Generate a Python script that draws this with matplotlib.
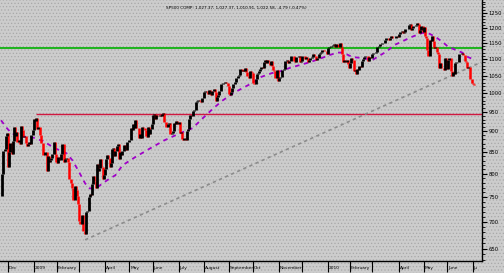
import numpy as np
import matplotlib
matplotlib.use("Agg")
from matplotlib import pyplot as plt
from matplotlib.patches import Rectangle
from matplotlib.ticker import FixedLocator, NullFormatter

# daily closes, one list per month (Nov 2008 .. Jul 2010)
nov08 = [752.44, 800.03, 851.81, 857.39, 887.68, 896.24]
dec08 = [816.21, 848.81, 870.74, 845.22, 876.07, 909.70, 888.67, 899.24, 873.59, 879.73, 868.57,
         913.18, 904.42, 885.28, 887.88, 871.63, 863.16, 868.15, 872.80, 869.42, 890.64, 903.25]
jan09 = [931.80, 927.45, 934.70, 906.65, 909.73, 890.35, 870.26, 871.79, 842.62, 843.74, 850.12,
         805.22, 840.24, 827.50, 831.95, 836.57, 845.71, 874.09, 845.14, 825.88]
feb09 = [825.44, 838.51, 832.23, 845.85, 868.60, 869.89, 827.16, 833.74, 835.19, 826.84, 789.17,
         788.42, 778.94, 770.05, 743.33, 773.14, 764.90, 752.83, 735.09]
mar09 = [700.82, 696.33, 712.87, 682.55, 683.38, 676.53, 719.60, 721.36, 750.74, 756.55, 753.89,
         778.12, 794.35, 784.04, 768.54, 822.92, 806.12, 813.88, 832.86, 815.94, 787.53, 797.87]
apr09 = [811.08, 834.38, 842.50, 835.48, 815.55, 825.16, 856.56, 858.73, 841.50, 852.06, 865.30,
         869.60, 832.39, 850.08, 843.55, 851.92, 866.23, 857.51, 855.16, 873.64, 872.81]
may09 = [877.52, 907.24, 903.80, 919.53, 907.39, 929.23, 909.24, 908.35, 883.92, 893.07, 882.88,
         909.71, 908.13, 903.47, 888.33, 887.00, 910.33, 893.06, 906.83, 919.14]
jun09 = [942.87, 944.74, 931.76, 942.46, 940.09, 939.14, 942.43, 939.15, 944.89, 946.21, 923.72,
         911.97, 910.71, 918.37, 921.23, 893.04, 895.10, 900.94, 920.26, 918.90, 927.23, 919.32]
jul09 = [923.33, 896.42, 898.72, 881.03, 879.56, 882.68, 879.13, 901.05, 905.84, 932.68, 940.74,
         940.38, 951.13, 954.58, 954.07, 976.29, 979.26, 982.18, 979.62, 975.15, 986.75, 987.48]
aug09 = [1002.63, 1005.65, 1002.72, 997.08, 1010.48, 1007.10, 994.35, 1005.81, 1012.73, 1004.09,
         979.73, 989.67, 996.46, 1007.37, 1026.13, 1025.57, 1028.00, 1028.12, 1030.98, 1028.93, 1020.62]
sep09 = [998.04, 994.75, 1003.24, 1016.40, 1025.39, 1033.37, 1044.14, 1042.73, 1049.34, 1052.63,
         1068.76, 1065.49, 1068.30, 1064.66, 1071.66, 1060.87, 1050.78, 1044.38, 1062.98, 1060.61, 1057.08]
oct09 = [1029.85, 1025.21, 1040.46, 1054.72, 1057.58, 1065.48, 1071.49, 1076.19, 1073.19, 1092.02,
         1096.56, 1087.68, 1097.91, 1091.06, 1081.40, 1092.91, 1079.60, 1066.95, 1063.41, 1042.63,
         1066.11, 1036.19]
nov09 = [1042.88, 1045.41, 1046.50, 1066.63, 1069.30, 1093.08, 1093.01, 1098.51, 1087.24, 1093.48,
         1109.30, 1110.32, 1109.80, 1094.90, 1091.38, 1106.24, 1105.65, 1110.63, 1091.49, 1095.63]
dec09 = [1108.86, 1109.24, 1099.92, 1105.98, 1103.25, 1091.94, 1095.95, 1102.35, 1106.41, 1114.11,
         1107.93, 1109.18, 1096.08, 1102.47, 1114.05, 1118.02, 1120.59, 1126.48, 1127.78, 1126.20,
         1126.42, 1115.10]
jan10 = [1132.99, 1136.52, 1137.14, 1141.69, 1144.98, 1146.98, 1136.22, 1145.68, 1148.46, 1136.03,
         1150.23, 1138.04, 1116.48, 1091.76, 1096.78, 1092.17, 1097.50, 1084.53, 1073.87]
feb10 = [1089.19, 1103.32, 1097.28, 1063.11, 1066.19, 1056.74, 1070.52, 1068.13, 1078.47, 1075.51,
         1094.87, 1099.51, 1106.75, 1109.17, 1108.01, 1094.60, 1105.24, 1102.94, 1104.49]
mar10 = [1115.71, 1118.31, 1118.79, 1122.97, 1138.70, 1138.50, 1140.45, 1145.61, 1150.24, 1149.99,
         1150.51, 1159.46, 1166.21, 1165.83, 1159.90, 1165.81, 1174.17, 1167.72, 1165.73, 1166.59,
         1173.22, 1173.27, 1169.43]
apr10 = [1178.10, 1187.44, 1189.44, 1182.45, 1186.44, 1194.37, 1196.48, 1197.30, 1210.65, 1211.67,
         1192.13, 1197.52, 1207.17, 1205.94, 1208.67, 1217.28, 1212.05, 1183.71, 1191.36, 1206.78, 1186.69]
may10 = [1202.26, 1173.60, 1165.90, 1128.15, 1110.88, 1159.73, 1155.79, 1171.67, 1157.44, 1135.68,
         1136.94, 1120.80, 1115.05, 1071.59, 1087.69, 1073.65, 1074.03, 1067.95, 1103.06, 1089.41]
jun10 = [1070.71, 1098.38, 1102.83, 1064.88, 1050.47, 1062.00, 1055.69, 1086.84, 1091.60, 1089.63,
         1115.23, 1114.61, 1116.04, 1117.51, 1113.20, 1095.31, 1092.04, 1073.69, 1076.76, 1074.57,
         1041.24, 1030.71]
jul10 = [1027.37, 1022.58]

months = [nov08, dec08, jan09, feb09, mar09, apr09, may09, jun09, jul09, aug09, sep09, oct09,
          nov09, dec09, jan10, feb10, mar10, apr10, may10, jun10, jul10]
month_names = ["", "Dec", "2009", "February", "", "April", "May", "June", "July", "August",
               "September", "Oct", "November", "", "2010", "February", "", "April", "May", "June", "Ju"]

# moving average (purple): bar index, value
ma_idx = [0, 5, 9, 16, 27, 36, 46, 56, 61, 66, 72, 76, 82, 91, 98, 104, 115, 128, 140, 153, 164,
          173, 182, 190, 199, 207, 215, 223, 232, 239, 247, 256, 265, 273, 282, 288, 293, 301, 310,
          318, 324, 330, 337, 343, 350, 356, 361, 367, 372, 378, 383, 389, 395, 400, 406]
ma_val = [928, 908, 895, 888, 885, 876, 859, 847, 831, 808, 779, 768, 770, 786, 797, 819, 838, 859,
          878, 895, 908, 934, 960, 981, 1001, 1015, 1029, 1047, 1058, 1063, 1073, 1082, 1091, 1101,
          1113, 1120, 1120, 1106, 1103, 1097, 1110, 1123, 1144, 1154, 1167, 1176, 1183, 1180, 1170,
          1154, 1138, 1129, 1120, 1106, 1097]

trend_idx = [72, 411]
trend_val = [666, 1090]
resist_start = 30
resist_level = 944
green_level = 1133
title = "SP500 COMP: 1,027.37, 1,027.37, 1,010.91, 1,022.58, -4.79 (-0.47%)"

closes = np.concatenate([np.array(m, dtype=float) for m in months])
n = len(closes)
x = np.arange(n)
prev = np.concatenate([[closes[0]], closes[:-1]])
month_starts = np.cumsum([0] + [len(m) for m in months[:-1]])

plt.rcParams['hatch.color'] = '#a8a8a8'
plt.rcParams['hatch.linewidth'] = 0.5

fig = plt.figure(figsize=(5.04, 2.73), dpi=100, facecolor='#cccccc')
# dotted backdrop over the whole picture
fig.patches.append(Rectangle((0, 0), 1, 1, transform=fig.transFigure, facecolor='#cccccc',
                             edgecolor='#a8a8a8', hatch='.....', lw=0, zorder=-10))
ax = fig.add_axes([0, 0.044, 0.956, 0.956])
ax.patch.set_alpha(0)

ax.set_yscale('log')
ax.set_xlim(-0.9, 411.8)
ax.set_ylim(628, 1296)

ax.axhline(green_level, color='#00b000', lw=1.2, zorder=2)
ax.hlines(resist_level, resist_start, 411.8, color='#d01840', lw=1.0, zorder=2)
ax.plot(trend_idx, trend_val, color='#8c8c8c', lw=1.2, ls=(0, (2, 2)), zorder=2)
ax.plot(ma_idx, ma_val, color='#a000c8', lw=1.3, ls=(0, (2.5, 2.5)), zorder=3)

up = closes >= prev
lo = np.minimum(prev, closes)
hi = np.maximum(prev, closes)
ax.vlines(x[~up], lo[~up], hi[~up], color='#ff0000', lw=1.8, zorder=4)
ax.vlines(x[up], lo[up], hi[up], color='black', lw=2.0, zorder=5)

yt = [650, 700, 750, 800, 850, 900, 950, 1000, 1050, 1100, 1150, 1200, 1250]
ax.yaxis.set_major_locator(FixedLocator(yt))
ax.yaxis.set_minor_locator(FixedLocator(list(range(630, 1300, 10))))
ax.yaxis.set_minor_formatter(NullFormatter())
ax.set_yticklabels([str(v) for v in yt])
ax.yaxis.tick_right()
ax.tick_params(axis='y', which='major', direction='out', length=3.5, width=0.8, labelsize=3.8, pad=1.5)
ax.tick_params(axis='y', which='minor', direction='out', length=1.8, width=0.6)

ax.set_xticks(month_starts[1:])
ax.set_xticklabels([])
ax.tick_params(axis='x', which='major', direction='out', length=8, width=0.8)
for pos, name in zip(month_starts[1:], month_names[1:]):
    ax.text(pos + 0.8, -0.028, name, transform=ax.get_xaxis_transform(), fontsize=3.2,
            ha='left', va='center', clip_on=False)

for s in ['top', 'left']:
    ax.spines[s].set_visible(False)
ax.spines['right'].set_linewidth(1.0)
ax.spines['bottom'].set_linewidth(1.0)

fig.text(0.33, 0.97, title, fontsize=3.0, ha='left', va='center')

fig.savefig('out.png', dpi=100, facecolor=fig.get_facecolor())
